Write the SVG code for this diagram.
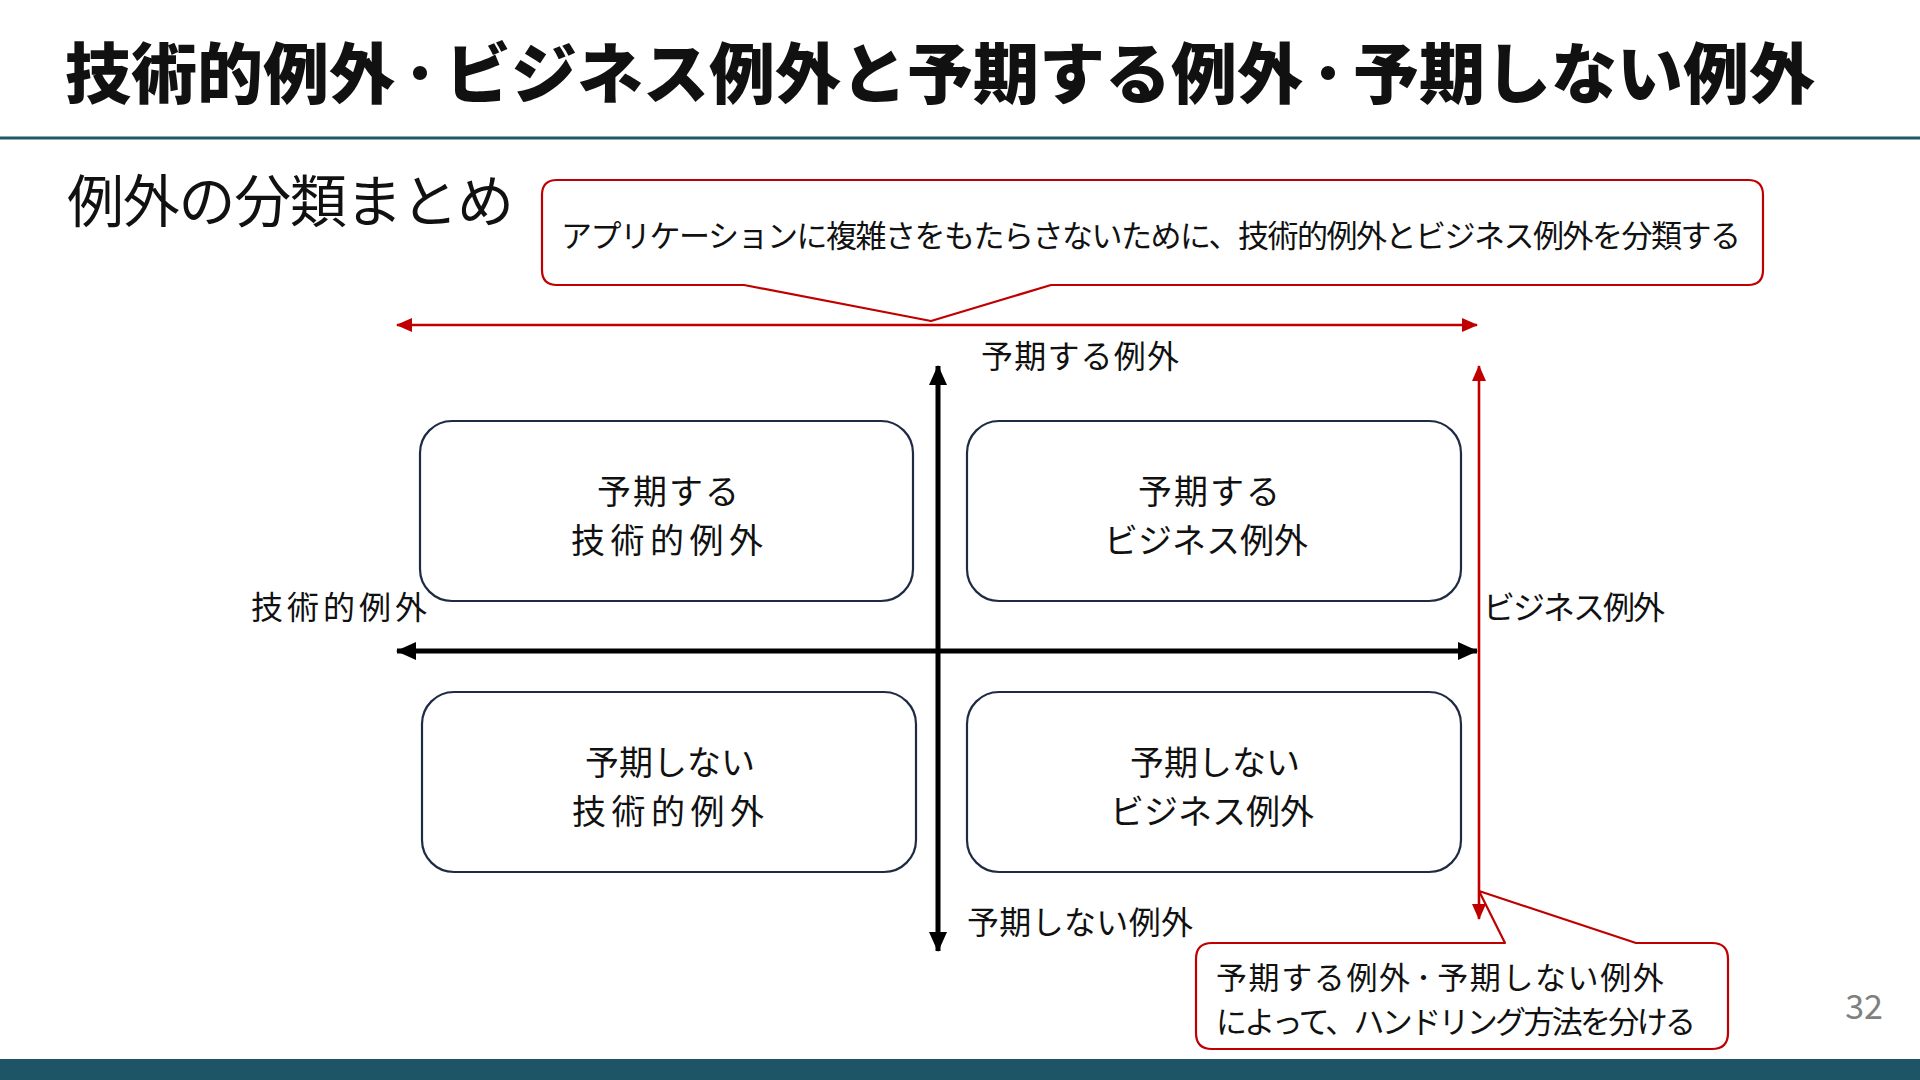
<svg xmlns="http://www.w3.org/2000/svg" width="1920" height="1080" viewBox="0 0 1920 1080">
  <defs>
    <style>
      text { font-family: "Noto Sans CJK JP", "Noto Sans", sans-serif; fill: #111111; }
      .title { font-size: 66px; font-weight: 900; }
      .sub { font-size: 57px; font-weight: 400; }
      .box { fill: #ffffff; stroke: #1f2b45; stroke-width: 2.2; }
      .boxtxt { font-size: 34px; text-anchor: middle; }
      .axislbl { font-size: 32px; }
      .callout { fill: #ffffff; stroke: #c00000; stroke-width: 2.2; stroke-linejoin: round; }
      .calltxt { font-size: 31px; }
      .red { stroke: #c00000; stroke-width: 2.6; fill: none; }
      .blk { stroke: #000000; stroke-width: 5; fill: none; }
    </style>
    <marker id="redHead" markerUnits="userSpaceOnUse" markerWidth="16" markerHeight="14" refX="15" refY="7" orient="auto-start-reverse">
      <path d="M0,0 L16,7 L0,14 Z" fill="#c00000"/>
    </marker>
    <marker id="blkHead" markerUnits="userSpaceOnUse" markerWidth="20" markerHeight="18" refX="19" refY="9" orient="auto-start-reverse">
      <path d="M0,0 L20,9 L0,18 Z" fill="#000000"/>
    </marker>
  </defs>

  <rect x="0" y="0" width="1920" height="1080" fill="#ffffff"/>

  <!-- Header -->
  <g id="header">
    <text class="title" x="65" y="98">技術的例外<tspan font-size="50" dy="-6">・</tspan><tspan dy="6">ビジネス例外と予期する例外</tspan><tspan font-size="50" dy="-6">・</tspan><tspan dy="6">予期しない例外</tspan></text>
    <rect x="0" y="136.5" width="1920" height="3" fill="#1f5866"/>
    <text class="sub" x="67" y="222" textLength="447" lengthAdjust="spacing">例外の分類まとめ</text>
  </g>

  <!-- Connectors -->
  <g id="connectors">
    <line id="axis-h" class="blk" x1="397" y1="651" x2="1477" y2="651" marker-start="url(#blkHead)" marker-end="url(#blkHead)"/>
    <line id="axis-v" class="blk" x1="938" y1="366" x2="938" y2="951" marker-start="url(#blkHead)" marker-end="url(#blkHead)"/>
    <line id="red-h" class="red" x1="397" y1="325" x2="1477" y2="325" marker-start="url(#redHead)" marker-end="url(#redHead)"/>
    <line id="red-v" class="red" x1="1479" y1="366" x2="1479" y2="919" marker-start="url(#redHead)" marker-end="url(#redHead)"/>
  </g>

  <!-- Axis labels -->
  <g id="label-expected">
    <text class="axislbl" x="981" y="368" textLength="198" lengthAdjust="spacing">予期する例外</text>
  </g>
  <g id="label-unexpected">
    <text class="axislbl" x="967" y="934" textLength="226" lengthAdjust="spacing">予期しない例外</text>
  </g>
  <g id="label-technical">
    <text class="axislbl" x="251" y="619" textLength="176" lengthAdjust="spacing">技術的例外</text>
  </g>
  <g id="label-business">
    <text class="axislbl" x="1483" y="619" textLength="182" lengthAdjust="spacing">ビジネス例外</text>
  </g>

  <!-- Quadrant nodes -->
  <g id="node-expected-technical">
    <rect class="box" x="420" y="421" width="493" height="180" rx="32" ry="32"/>
    <text class="boxtxt" x="668" y="504" textLength="142" lengthAdjust="spacing">予期する</text>
    <text class="boxtxt" x="667" y="553" textLength="192" lengthAdjust="spacing">技術的例外</text>
  </g>
  <g id="node-expected-business">
    <rect class="box" x="967" y="421" width="494" height="180" rx="32" ry="32"/>
    <text class="boxtxt" x="1209" y="504" textLength="142" lengthAdjust="spacing">予期する</text>
    <text class="boxtxt" x="1206" y="553">ビジネス例外</text>
  </g>
  <g id="node-unexpected-technical">
    <rect class="box" x="422" y="692" width="494" height="180" rx="32" ry="32"/>
    <text class="boxtxt" x="670" y="775">予期しない</text>
    <text class="boxtxt" x="668" y="824" textLength="192" lengthAdjust="spacing">技術的例外</text>
  </g>
  <g id="node-unexpected-business">
    <rect class="box" x="967" y="692" width="494" height="180" rx="32" ry="32"/>
    <text class="boxtxt" x="1215" y="775">予期しない</text>
    <text class="boxtxt" x="1212" y="824">ビジネス例外</text>
  </g>

  <!-- Top callout -->
  <g id="callout-top">
    <path class="callout" d="M557,180 H1748 Q1763,180 1763,195 V270 Q1763,285 1748,285 H1051 L931,321 L744,285 H557 Q542,285 542,270 V195 Q542,180 557,180 Z"/>
    <text class="calltxt" x="561" y="247" font-size="32" textLength="1180" lengthAdjust="spacing">アプリケーションに複雑さをもたらさないために、技術的例外とビジネス例外を分類する</text>
  </g>

  <!-- Bottom callout -->
  <g id="callout-bottom">
    <path class="callout" d="M1212,943 H1505 L1479,891 L1636,943 H1712 Q1728,943 1728,959 V1033 Q1728,1049 1712,1049 H1212 Q1196,1049 1196,1033 V959 Q1196,943 1212,943 Z"/>
    <text class="calltxt" x="1216" y="989" letter-spacing="1.6">予期する例外<tspan font-size="24" dy="-3">・</tspan><tspan dy="3">予期しない例外</tspan></text>
    <text class="calltxt" x="1216" y="1033" textLength="480" lengthAdjust="spacing">によって、ハンドリング方法を分ける</text>
  </g>

  <!-- Footer -->
  <g id="footer">
    <rect x="0" y="1059" width="1920" height="21" fill="#1d5566"/>
    <text x="1883" y="1019" font-family="'Noto Sans', sans-serif" font-size="34" style="fill:#808080" text-anchor="end">32</text>
  </g>
</svg>
